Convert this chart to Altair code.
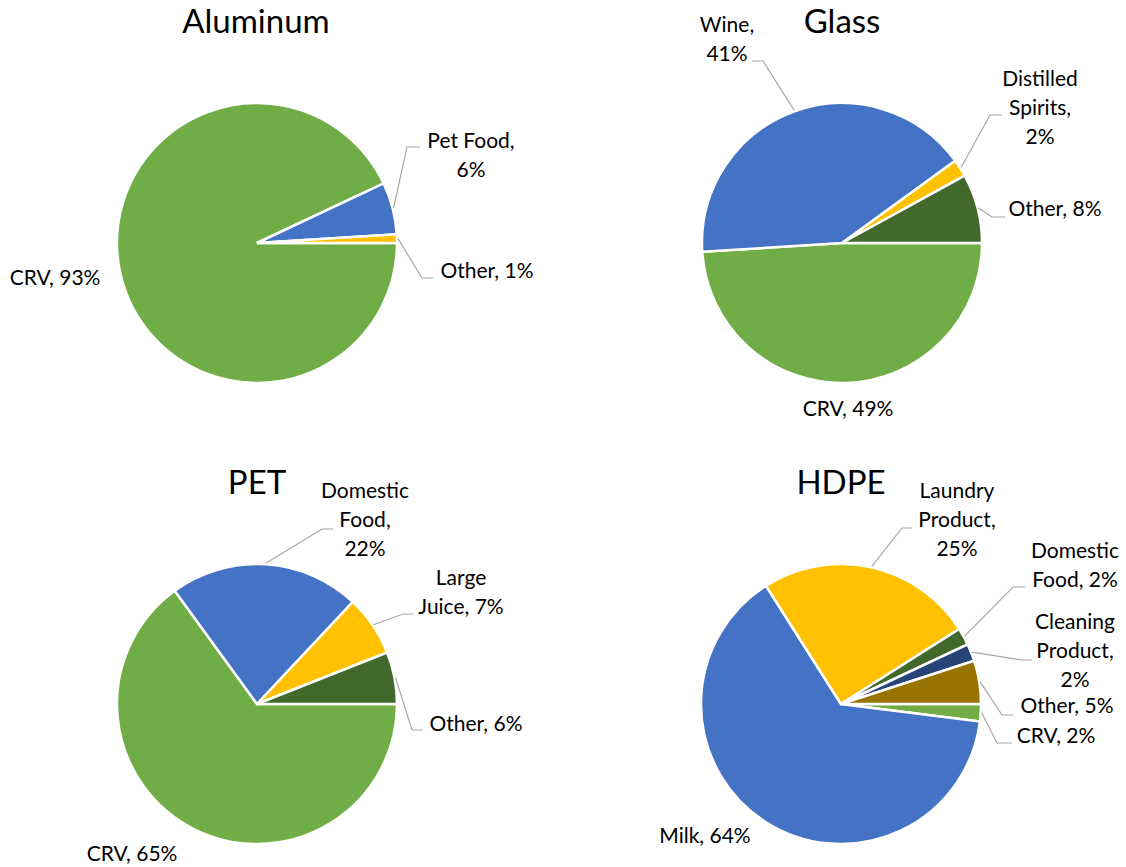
import math
import altair as alt
import pandas as pd

# ---- data: share of each container type, in percent ----
PANELS = ["Aluminum", "Glass", "PET", "HDPE"]

ALUMINUM_CATS = ["CRV", "Pet Food", "Other"]
ALUMINUM_PCT = [93, 6, 1]

GLASS_CATS = ["CRV", "Wine", "Distilled Spirits", "Other"]
GLASS_PCT = [49, 41, 2, 8]

PET_CATS = ["CRV", "Domestic Food", "Large Juice", "Other"]
PET_PCT = [65, 22, 7, 6]

HDPE_CATS = ["CRV", "Milk", "Laundry Product", "Domestic Food", "Cleaning Product", "Other"]
HDPE_PCT = [2, 64, 25, 2, 2, 5]

SERIES = {
    "Aluminum": (ALUMINUM_CATS, ALUMINUM_PCT),
    "Glass": (GLASS_CATS, GLASS_PCT),
    "PET": (PET_CATS, PET_PCT),
    "HDPE": (HDPE_CATS, HDPE_PCT),
}

# label text (line breaks as drawn)
LABEL_TEXT = {
    ("Aluminum", "CRV"): "CRV, 93%",
    ("Aluminum", "Pet Food"): "Pet Food,\n6%",
    ("Aluminum", "Other"): "Other, 1%",
    ("Glass", "CRV"): "CRV, 49%",
    ("Glass", "Wine"): "Wine,\n41%",
    ("Glass", "Distilled Spirits"): "Distilled\nSpirits,\n2%",
    ("Glass", "Other"): "Other, 8%",
    ("PET", "CRV"): "CRV, 65%",
    ("PET", "Domestic Food"): "Domestic\nFood,\n22%",
    ("PET", "Large Juice"): "Large\nJuice, 7%",
    ("PET", "Other"): "Other, 6%",
    ("HDPE", "CRV"): "CRV, 2%",
    ("HDPE", "Milk"): "Milk, 64%",
    ("HDPE", "Laundry Product"): "Laundry\nProduct,\n25%",
    ("HDPE", "Domestic Food"): "Domestic\nFood, 2%",
    ("HDPE", "Cleaning Product"): "Cleaning\nProduct,\n2%",
    ("HDPE", "Other"): "Other, 5%",
}

# ---- styling / layout ----
W, H = 1126, 867
RADIUS = 140
LINE_H = 29
CENTERS = {"Aluminum": (257, 243), "Glass": (842, 243), "PET": (257, 704), "HDPE": (841, 704)}
TITLE_POS = {"Aluminum": (256, 23), "Glass": (842, 23), "PET": (257, 484), "HDPE": (841, 484)}

GREEN, BLUE, GOLD = "#70AD47", "#4472C4", "#FFC000"
DK_GREEN, DK_BLUE, DK_GOLD = "#43682B", "#264478", "#997300"
COLORS = {
    "Aluminum": [GREEN, BLUE, GOLD],
    "Glass": [GREEN, BLUE, GOLD, DK_GREEN],
    "PET": [GREEN, BLUE, GOLD, DK_GREEN],
    "HDPE": [GREEN, BLUE, GOLD, DK_GREEN, DK_BLUE, DK_GOLD],
}

# label block centres and leader-line elbows (page pixels)
LABEL_POS = {
    ("Aluminum", "CRV"): (55, 279),
    ("Aluminum", "Pet Food"): (471, 156),
    ("Aluminum", "Other"): (487, 272),
    ("Glass", "CRV"): (848, 410),
    ("Glass", "Wine"): (727, 40),
    ("Glass", "Distilled Spirits"): (1040, 109),
    ("Glass", "Other"): (1055, 210),
    ("PET", "CRV"): (132, 855),
    ("PET", "Domestic Food"): (365, 521),
    ("PET", "Large Juice"): (461, 593),
    ("PET", "Other"): (476, 725),
    ("HDPE", "CRV"): (1056, 737),
    ("HDPE", "Milk"): (705, 837),
    ("HDPE", "Laundry Product"): (957, 521),
    ("HDPE", "Domestic Food"): (1075, 566),
    ("HDPE", "Cleaning Product"): (1075, 652),
    ("HDPE", "Other"): (1067, 707),
}
LEADERS = {  # (elbow x, elbow y, end x)
    ("Aluminum", "Pet Food"): (407, 147, 420),
    ("Aluminum", "Other"): (422, 278, 433),
    ("Glass", "Wine"): (763, 61, 752),
    ("Glass", "Distilled Spirits"): (990, 115, 1002),
    ("Glass", "Other"): (992, 217, 1005),
    ("PET", "Domestic Food"): (322, 529, 333),
    ("PET", "Large Juice"): (403, 614, 413),
    ("PET", "Other"): (412, 730, 423),
    ("HDPE", "Laundry Product"): (902, 528, 912),
    ("HDPE", "Domestic Food"): (1013, 587, 1025),
    ("HDPE", "Cleaning Product"): (1022, 660, 1032),
    ("HDPE", "Other"): (1002, 715, 1013),
    ("HDPE", "CRV"): (997, 743, 1012),
}

FONT = "Lato"

# ---- build tables ----
arc_rows, label_rows, leader_rows, title_rows = [], [], [], []
for panel in PANELS:
    cats, pcts = SERIES[panel]
    cx, cy = CENTERS[panel]
    acc = 0
    for i, (cat, pct) in enumerate(zip(cats, pcts)):
        start, end = acc, acc + pct
        acc = end
        arc_rows.append(dict(panel=panel, category=cat, pct=pct, start=start, end=end,
                             cx=cx, cy=cy, color=COLORS[panel][i]))
        txt = LABEL_TEXT[(panel, cat)]
        lx, ly = LABEL_POS[(panel, cat)]
        # multi-line text is anchored on its first line: shift so the block is centred
        n_lines = txt.count("\n") + 1
        label_rows.append(dict(text=txt, x=lx, y=ly - (n_lines - 1) * LINE_H / 2))
        if (panel, cat) in LEADERS:
            # leader starts on the rim at the slice's mid angle (0% = 3 o'clock, clockwise)
            mid = math.radians(90 + 3.6 * (start + end) / 2)
            sx = cx + (RADIUS + 1) * math.sin(mid)
            sy = cy - (RADIUS + 1) * math.cos(mid)
            ex, ey, endx = LEADERS[(panel, cat)]
            key = f"{panel}-{cat}"
            leader_rows += [
                dict(key=key, o=0, x=sx, y=sy),
                dict(key=key, o=1, x=ex, y=ey),
                dict(key=key, o=2, x=endx, y=ey),
            ]
    tx, ty = TITLE_POS[panel]
    title_rows.append(dict(title=panel, x=tx, y=ty))

arcs = pd.DataFrame(arc_rows)
labels = pd.DataFrame(label_rows)
leaders = pd.DataFrame(leader_rows)
titles = pd.DataFrame(title_rows)

xs = alt.Scale(domain=[0, W], range=[0, W], nice=False, zero=False)
ys = alt.Scale(domain=[0, H], range=[0, H], nice=False, zero=False)

pie = alt.Chart(arcs).mark_arc(outerRadius=RADIUS, stroke="white", strokeWidth=2.5).encode(
    x=alt.X("cx:Q", scale=xs, axis=None),
    y=alt.Y("cy:Q", scale=ys, axis=None),
    theta=alt.Theta("start:Q", scale=alt.Scale(domain=[0, 100], range=[math.pi / 2, math.pi / 2 + 2 * math.pi])),
    theta2="end:Q",
    color=alt.Color("color:N", scale=None),
)

lines = alt.Chart(leaders).mark_line(color="#A6A6A6", strokeWidth=1.2).encode(
    x=alt.X("x:Q", scale=xs, axis=None),
    y=alt.Y("y:Q", scale=ys, axis=None),
    detail="key:N",
    order="o:Q",
)

text = alt.Chart(labels).mark_text(
    font=FONT, fontSize=21, lineHeight=LINE_H, lineBreak="\n", color="#000000",
    align="center", baseline="middle",
).encode(
    x=alt.X("x:Q", scale=xs, axis=None),
    y=alt.Y("y:Q", scale=ys, axis=None),
    text="text:N",
)

heads = alt.Chart(titles).mark_text(
    font=FONT, fontSize=33, color="#000000", align="center", baseline="middle",
).encode(
    x=alt.X("x:Q", scale=xs, axis=None),
    y=alt.Y("y:Q", scale=ys, axis=None),
    text="title:N",
)

chart = alt.layer(pie, lines, text, heads).properties(
    width=W, height=H, padding=0, autosize=alt.AutoSizeParams(type="none"),
    background="white",
).configure_view(stroke=None)

chart.save("out.html", embed_options={"renderer": "svg", "actions": False})
